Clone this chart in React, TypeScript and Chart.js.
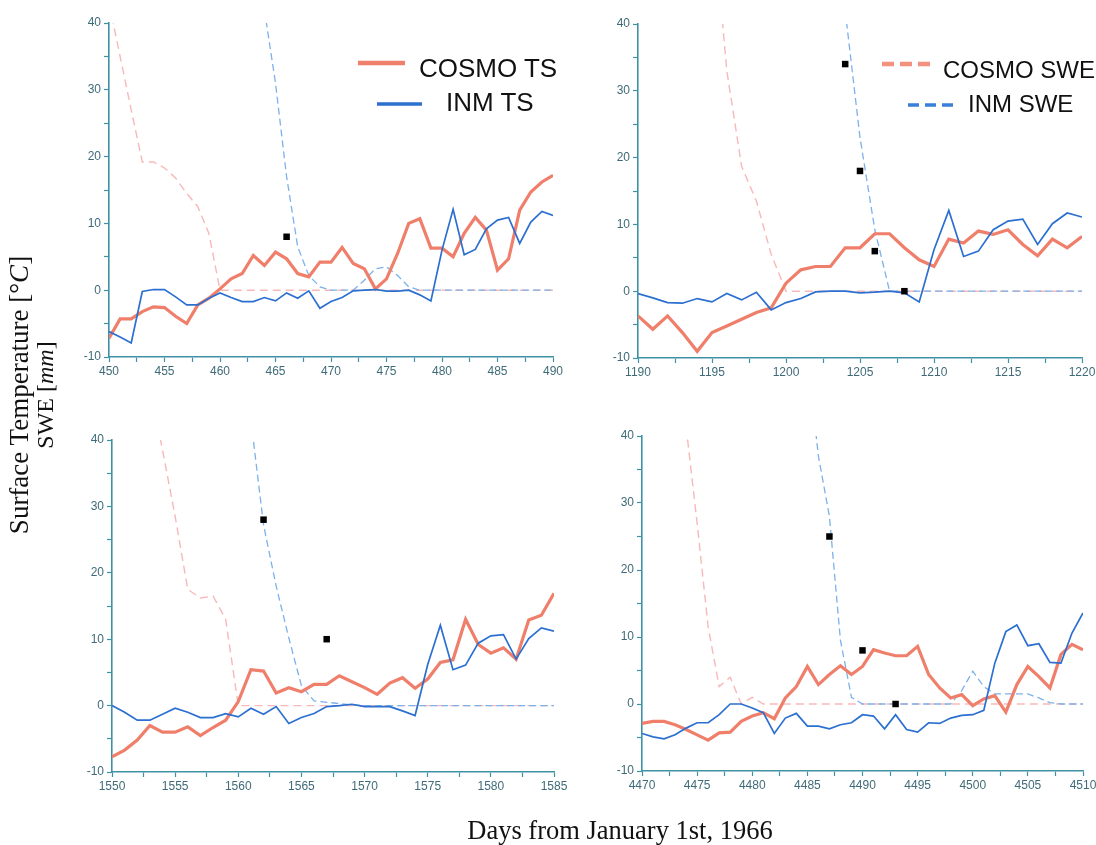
import React, { useEffect, useRef } from 'react';
import { Chart, registerables } from 'chart.js';

Chart.register(...registerables);

// ---------- Panel 1: days 450–490 ----------
const P1_START = 450;
const P1_END = 490;
const P1_COSMO_TS = [-7.2, -4.3, -4.3, -3.2, -2.5, -2.6, -3.9, -5.0, -2.2, -1.2, 0.2, 1.7, 2.5, 5.2, 3.7, 5.7, 4.7, 2.5, 2.0, 4.2, 4.2, 6.4, 4.0, 3.2, 0.2, 1.7, 5.5, 10.0, 10.7, 6.3, 6.3, 5.0, 8.5, 10.9, 9.0, 3.0, 4.7, 12.0, 14.7, 16.2, 17.2];
const P1_INM_TS = [-6.2, -7.0, -7.9, -0.2, 0.1, 0.1, -1.0, -2.2, -2.2, -1.2, -0.4, -1.1, -1.7, -1.7, -1.1, -1.6, -0.4, -1.2, -0.1, -2.7, -1.7, -1.1, -0.1, 0, 0.1, -0.15, -0.15, 0, -0.7, -1.6, 6.0, 12.1, 5.3, 6.1, 9.2, 10.5, 10.9, 7.0, 10.2, 11.8, 11.2];
const P1_COSMO_SWE = [43, 35, 27, 19.2, 19.2, 18.3, 16.8, 14.5, 12.5, 8.5, 0, 0, 0, 0, 0, 0, 0, 0, 0, 0, 0, 0, 0, 0, 0, 0, 0, 0, 0, 0, 0, 0, 0, 0, 0, 0, 0, 0, 0, 0, 0];
const P1_INM_SWE = [null, null, null, null, null, null, null, null, null, null, null, null, null, null, 42, 31, 17, 6.5, 2.2, 0.5, 0, 0, 0, 1.5, 3.2, 3.5, 2.2, 0.5, 0, 0, 0, 0, 0, 0, 0, 0, 0, 0, 0, 0, 0];
const P1_OBS_DAYS = [466];
const P1_OBS_SWE = [8];

// ---------- Panel 2: days 1190–1220 ----------
const P2_START = 1190;
const P2_END = 1220;
const P2_COSMO_TS = [-3.7, -5.7, -3.7, -6.2, -9.0, -6.2, -5.2, -4.2, -3.2, -2.5, 1.2, 3.2, 3.7, 3.7, 6.5, 6.5, 8.6, 8.6, 6.5, 4.7, 3.7, 7.8, 7.2, 9.0, 8.5, 9.2, 7.0, 5.3, 7.8, 6.5, 8.2];
const P2_INM_TS = [-0.35, -1.0, -1.7, -1.8, -1.1, -1.6, -0.35, -1.3, -0.15, -2.8, -1.7, -1.1, -0.1, 0, 0, -0.25, -0.15, 0, -0.25, -1.6, 6.2, 12.1, 5.2, 6.0, 9.2, 10.5, 10.8, 7.0, 10.1, 11.7, 11.1];
const P2_COSMO_SWE = [null, null, null, null, null, 58, 33, 18.7, 13.5, 5.5, 0, 0, 0, 0, 0, 0, 0, 0, 0, 0, 0, 0, 0, 0, 0, 0, 0, 0, 0, 0, 0];
const P2_INM_SWE = [null, null, null, null, null, null, null, null, null, null, null, null, null, null, 42, 23, 9.2, 0, 0, 0, 0, 0, 0, 0, 0, 0, 0, 0, 0, 0, 0];
const P2_OBS_DAYS = [1204, 1205, 1206, 1208];
const P2_OBS_SWE = [34, 18, 6, 0];

// ---------- Panel 3: days 1550–1585 ----------
const P3_START = 1550;
const P3_END = 1585;
const P3_COSMO_TS = [-7.7, -6.7, -5.2, -3.0, -4.0, -4.0, -3.2, -4.5, -3.3, -2.2, 0.6, 5.4, 5.2, 1.9, 2.7, 2.1, 3.2, 3.2, 4.5, 3.6, 2.7, 1.7, 3.4, 4.2, 2.6, 4.0, 6.5, 6.9, 13.0, 9.2, 7.9, 8.7, 7.0, 12.9, 13.6, 16.9];
const P3_INM_TS = [0, -1.0, -2.2, -2.2, -1.3, -0.4, -1.0, -1.8, -1.8, -1.2, -1.7, -0.4, -1.3, -0.15, -2.7, -1.8, -1.2, -0.15, 0, 0.2, -0.15, -0.15, -0.15, -0.8, -1.5, 6.2, 12.1, 5.4, 6.1, 9.4, 10.5, 10.7, 7.0, 10.1, 11.7, 11.2];
const P3_COSMO_SWE = [null, null, null, 48, 38.5, 28.5, 17.5, 16.2, 16.5, 13, 0, 0, 0, 0, 0, 0, 0, 0, 0, 0, 0, 0, 0, 0, 0, 0, 0, 0, 0, 0, 0, 0, 0, 0, 0, 0];
const P3_INM_SWE = [null, null, null, null, null, null, null, null, null, null, null, 43, 27.2, 18, 10.2, 3, 0.7, 0.5, 0.3, 0.1, 0, 0, 0, 0, 0, 0, 0, 0, 0, 0, 0, 0, 0, 0, 0, 0];
const P3_OBS_DAYS = [1562, 1567];
const P3_OBS_SWE = [28, 10];

// ---------- Panel 4: days 4470–4510 ----------
const P4_START = 4470;
const P4_END = 4510;
const P4_COSMO_TS = [-2.9, -2.6, -2.6, -3.1, -3.8, -4.6, -5.4, -4.3, -4.2, -2.6, -1.8, -1.3, -2.2, 0.9, 2.6, 5.6, 2.9, 4.4, 5.7, 4.4, 5.6, 8.1, 7.6, 7.2, 7.2, 8.6, 4.4, 2.4, 0.9, 1.4, -0.25, 0.75, 1.25, -1.2, 2.9, 5.6, 4.1, 2.4, 7.4, 8.9, 8.1];
const P4_INM_TS = [-4.4, -4.9, -5.2, -4.6, -3.6, -2.8, -2.8, -1.6, 0, 0, -0.6, -1.3, -4.4, -2.1, -1.4, -3.3, -3.3, -3.7, -3.1, -2.8, -1.6, -1.8, -3.7, -1.6, -3.8, -4.2, -2.8, -2.9, -2.1, -1.7, -1.6, -0.95, 6.1, 10.8, 11.8, 8.7, 9.0, 6.2, 6.1, 10.6, 13.6];
const P4_COSMO_SWE = [null, null, null, null, 41.4, 27, 11.5, 2.6, 4, 0, 1, 0, 0, 0, 0, 0, 0, 0, 0, 0, 0, 0, 0, 0, 0, 0, 0, 0, 0, 0, 0, 0, 0, 0, 0, 0, 0, 0, 0, 0, 0];
const P4_INM_SWE = [null, null, null, null, null, null, null, null, null, null, null, null, null, null, null, 52, 37, 28, 9.5, 1, 0, 0, 0, 0, 0, 0, 0, 0, 0, 2, 4.9, 2.6, 1.5, 1.5, 1.5, 1.5, 0.9, 0.2, 0, 0, 0];
const P4_OBS_DAYS = [4487, 4490, 4493];
const P4_OBS_SWE = [25, 8, 0];

// ---------- Axis ----------
const Y_MIN = -10;
const Y_MAX = 40;
const X_STEP = 2.5;
const Y_STEP = 5;

// ---------- Styles ----------
const AXIS = '#3f92a6';
const TICK_TXT = '#3f6b78';
const C_COSMO_TS = '#ef7f6a';
const C_INM_TS = '#2b6fd0';
const C_COSMO_SWE = 'rgba(246,160,160,0.75)';
const C_INM_SWE = '#7db1ea';
const SANS = '"Liberation Sans", Arial, sans-serif';
const SERIF = '"Liberation Serif", "Times New Roman", serif';

const Y_AXIS_W = 40;
const X_AXIS_H = 30;
const PAD_TOP = 12;
const PAD_RIGHT = 20;

type PanelSpec = {
  start: number;
  end: number;
  cosmoTs: (number | null)[];
  inmTs: (number | null)[];
  cosmoSwe: (number | null)[];
  inmSwe: (number | null)[];
  obsDays: number[];
  obsSwe: number[];
  area: { x: number; y: number; w: number; h: number };
};

const PANELS: PanelSpec[] = [
  { start: P1_START, end: P1_END, cosmoTs: P1_COSMO_TS, inmTs: P1_INM_TS, cosmoSwe: P1_COSMO_SWE, inmSwe: P1_INM_SWE, obsDays: P1_OBS_DAYS, obsSwe: P1_OBS_SWE, area: { x: 109, y: 23, w: 444, h: 334 } },
  { start: P2_START, end: P2_END, cosmoTs: P2_COSMO_TS, inmTs: P2_INM_TS, cosmoSwe: P2_COSMO_SWE, inmSwe: P2_INM_SWE, obsDays: P2_OBS_DAYS, obsSwe: P2_OBS_SWE, area: { x: 638, y: 24, w: 444, h: 334 } },
  { start: P3_START, end: P3_END, cosmoTs: P3_COSMO_TS, inmTs: P3_INM_TS, cosmoSwe: P3_COSMO_SWE, inmSwe: P3_INM_SWE, obsDays: P3_OBS_DAYS, obsSwe: P3_OBS_SWE, area: { x: 112, y: 440, w: 442, h: 332 } },
  { start: P4_START, end: P4_END, cosmoTs: P4_COSMO_TS, inmTs: P4_INM_TS, cosmoSwe: P4_COSMO_SWE, inmSwe: P4_INM_SWE, obsDays: P4_OBS_DAYS, obsSwe: P4_OBS_SWE, area: { x: 642, y: 436, w: 441, h: 335 } },
];

function toPoints(start: number, vals: (number | null)[]) {
  return vals.map((v, i) => ({ x: start + i, y: v }));
}

function Panel({ spec }: { spec: PanelSpec }) {
  const ref = useRef<HTMLCanvasElement | null>(null);
  const cw = spec.area.w + Y_AXIS_W + PAD_RIGHT;
  const ch = spec.area.h + PAD_TOP + X_AXIS_H;

  useEffect(() => {
    if (!ref.current) return;
    const lineBase = { pointRadius: 0, tension: 0, fill: false, spanGaps: false };
    const chart = new Chart(ref.current, {
      type: 'line',
      data: {
        datasets: [
          {
            label: 'Observed SWE',
            data: spec.obsDays.map((d, i) => ({ x: d, y: spec.obsSwe[i] })),
            showLine: false,
            pointStyle: 'rect',
            pointRadius: 4.6,
            pointBackgroundColor: '#000000',
            pointBorderColor: '#000000',
            pointBorderWidth: 0,
          } as any,
          { ...lineBase, label: 'INM TS', data: toPoints(spec.start, spec.inmTs), borderColor: C_INM_TS, borderWidth: 1.7 },
          { ...lineBase, label: 'COSMO TS', data: toPoints(spec.start, spec.cosmoTs), borderColor: C_COSMO_TS, borderWidth: 3.2 },
          { ...lineBase, label: 'INM SWE', data: toPoints(spec.start, spec.inmSwe), borderColor: C_INM_SWE, borderWidth: 1.3, borderDash: [7, 4] },
          { ...lineBase, label: 'COSMO SWE', data: toPoints(spec.start, spec.cosmoSwe), borderColor: C_COSMO_SWE, borderWidth: 1.4, borderDash: [8, 5] },
        ],
      },
      options: {
        responsive: false,
        animation: false,
        events: [],
        layout: { padding: { left: 0, top: PAD_TOP, right: PAD_RIGHT, bottom: 0 } },
        plugins: { legend: { display: false }, tooltip: { enabled: false }, title: { display: false } },
        scales: {
          x: {
            type: 'linear',
            min: spec.start,
            max: spec.end,
            afterFit: (s: any) => { s.height = X_AXIS_H; },
            ticks: {
              stepSize: X_STEP,
              autoSkip: false,
              maxRotation: 0,
              padding: 2,
              color: TICK_TXT,
              font: { family: SANS, size: 12 },
              callback: (v: any) => (Number(v) % 5 === 0 ? String(v) : ''),
            },
            grid: { drawOnChartArea: false, drawTicks: true, tickLength: 5, tickColor: AXIS, tickWidth: 1.2 },
            border: { color: AXIS, width: 1.6 },
          },
          y: {
            type: 'linear',
            min: Y_MIN,
            max: Y_MAX,
            afterFit: (s: any) => { s.width = Y_AXIS_W; },
            ticks: {
              stepSize: Y_STEP,
              autoSkip: false,
              padding: 3,
              color: TICK_TXT,
              font: { family: SANS, size: 12 },
              callback: (v: any) => (Number(v) % 10 === 0 ? String(v) : ''),
            },
            grid: { drawOnChartArea: false, drawTicks: true, tickLength: 5, tickColor: AXIS, tickWidth: 1.2 },
            border: { color: AXIS, width: 1.6 },
          },
        },
      } as any,
    });
    return () => chart.destroy();
  }, [spec]);

  return (
    <canvas
      ref={ref}
      width={cw}
      height={ch}
      style={{ position: 'absolute', left: spec.area.x - Y_AXIS_W, top: spec.area.y - PAD_TOP, width: cw, height: ch }}
    />
  );
}

function Overlay() {
  return (
    <svg width={1096} height={845} style={{ position: 'absolute', left: 0, top: 0, pointerEvents: 'none' }}>
      {/* legend top-left */}
      <line x1={358} y1={63} x2={405} y2={63} stroke={C_COSMO_TS} strokeWidth={4.5} />
      <text x={419} y={77} fontFamily={SANS} fontSize={26} fill="#111">COSMO TS</text>
      <line x1={377} y1={104} x2={422} y2={104} stroke={C_INM_TS} strokeWidth={3.5} />
      <text x={446} y={111} fontFamily={SANS} fontSize={26} fill="#111">INM TS</text>
      {/* legend top-right */}
      <line x1={882} y1={64} x2={932} y2={64} stroke="#f4907e" strokeWidth={4.5} strokeDasharray="12 6" />
      <text x={943} y={78} fontFamily={SANS} fontSize={24} fill="#111">COSMO SWE</text>
      <line x1={908} y1={105} x2={956} y2={105} stroke="#3a7fd8" strokeWidth={3.5} strokeDasharray="11 6" />
      <text x={968} y={112} fontFamily={SANS} fontSize={24} fill="#111">INM SWE</text>
      {/* axis titles */}
      <text x={22} y={395} transform="rotate(-90 22 395)" textAnchor="middle" dominantBaseline="middle" fontFamily={SERIF} fontSize={27} fill="#111">
        Surface Temperature [°<tspan fontStyle="italic">C</tspan>]
      </text>
      <text x={47} y={395} transform="rotate(-90 47 395)" textAnchor="middle" dominantBaseline="middle" fontFamily={SERIF} fontSize={24} fill="#111">
        SWE [<tspan fontStyle="italic">mm</tspan>]
      </text>
      <text x={620} y={839} textAnchor="middle" fontFamily={SERIF} fontSize={26.5} fill="#111">Days from January 1st, 1966</text>
    </svg>
  );
}

export default function App() {
  return (
    <div style={{ position: 'fixed', left: 0, top: 0, width: 1096, height: 845, background: '#ffffff', overflow: 'hidden' }}>
      {PANELS.map((p, i) => (
        <Panel key={i} spec={p} />
      ))}
      <Overlay />
    </div>
  );
}
